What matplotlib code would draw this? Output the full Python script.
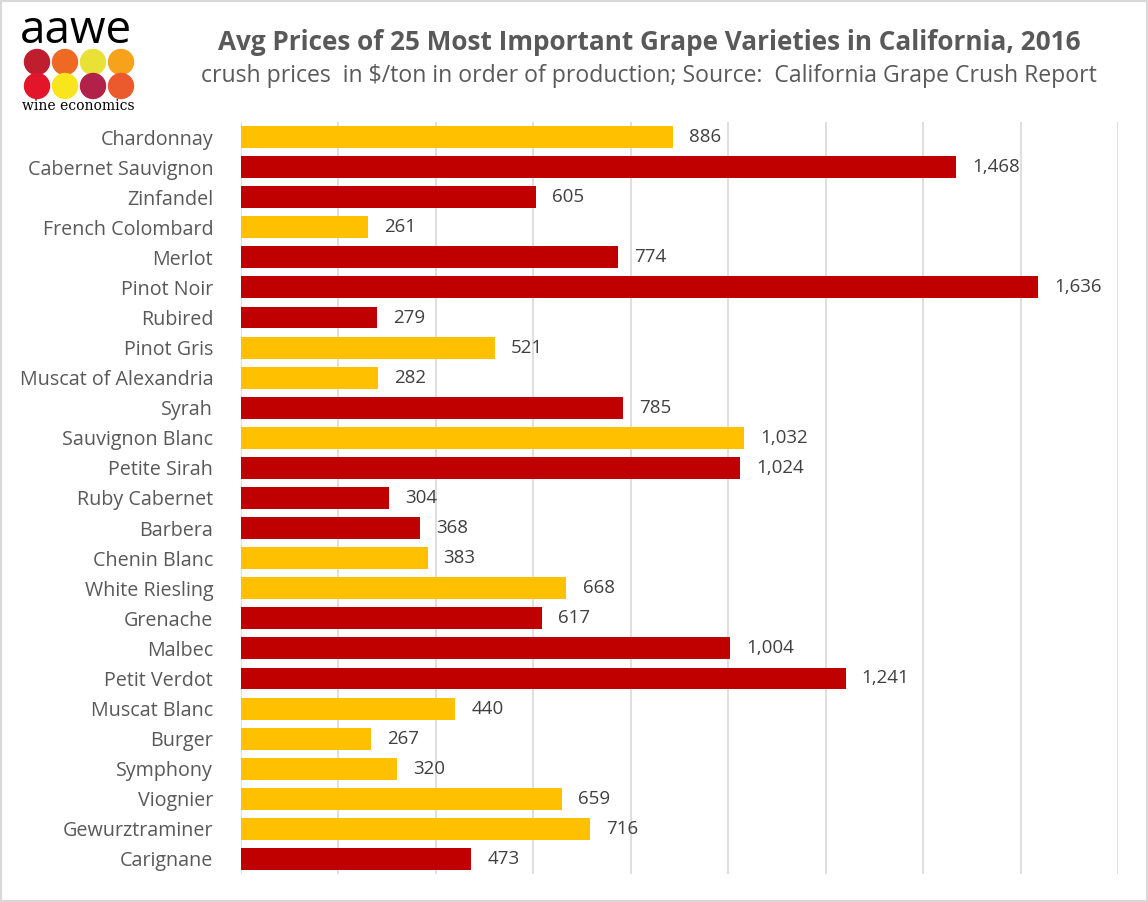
import matplotlib.pyplot as plt
from matplotlib.patches import Circle, Rectangle

varieties = ["Chardonnay", "Cabernet Sauvignon", "Zinfandel", "French Colombard", "Merlot",
             "Pinot Noir", "Rubired", "Pinot Gris", "Muscat of Alexandria", "Syrah",
             "Sauvignon Blanc", "Petite Sirah", "Ruby Cabernet", "Barbera", "Chenin Blanc",
             "White Riesling", "Grenache", "Malbec", "Petit Verdot", "Muscat Blanc",
             "Burger", "Symphony", "Viognier", "Gewurztraminer", "Carignane"]
prices = [886, 1468, 605, 261, 774, 1636, 279, 521, 282, 785, 1032, 1024, 304, 368, 383,
          668, 617, 1004, 1241, 440, 267, 320, 659, 716, 473]
grape_type = ["w", "r", "r", "w", "r", "r", "r", "w", "w", "r", "w", "r", "r", "r", "w",
              "w", "r", "r", "r", "w", "w", "w", "w", "w", "r"]

COLORS = {"w": "#FFC000", "r": "#C00000"}
INK = "#595959"
FONT = ["Open Sans", "DejaVu Sans"]

W, H = 1148, 902
fig = plt.figure(figsize=(W / 100, H / 100), dpi=100)
fig.patches.append(Rectangle((0, 0), 1, 1, transform=fig.transFigure, fill=False,
                             edgecolor="#d9d9d9", linewidth=3))

# --- main bar chart ---------------------------------------------------------
ax = fig.add_axes([241 / W, (H - 874) / H, 877 / W, 752 / H])
ypos = list(range(len(varieties)))
ax.barh(ypos, prices, height=0.73, color=[COLORS[t] for t in grape_type], zorder=3)
for y, v in zip(ypos, prices):
    ax.text(v + 33, y, f"{v:,}", va="center", ha="left", fontsize=13.5, color="#404040",
            family=FONT, zorder=4)
ax.set_xlim(0, 1800)
ax.set_ylim(len(varieties) - 0.5, -0.5)
ax.set_xticks(range(0, 1801, 200))
ax.set_xticklabels([])
ax.tick_params(axis="x", length=0)
ax.tick_params(axis="y", length=0, pad=20)
ax.set_yticks(ypos)
ax.set_yticklabels(varieties, fontsize=14.2, color=INK, family=FONT)
ax.grid(axis="x", color="#d9d9d9", linewidth=1.2, zorder=0)
for s in ax.spines.values():
    s.set_visible(False)

# --- titles -----------------------------------------------------------------
fig.text(649 / W, 1 - 42 / H, "Avg Prices of 25 Most Important Grape Varieties in California, 2016",
         ha="center", va="center", fontsize=18.8, fontweight="bold", color=INK, family=FONT)
fig.text(649 / W, 1 - 76 / H,
         "crush prices  in \\$/ton in order of production; Source:  California Grape Crush Report",
         ha="center", va="center", fontsize=16.6, color=INK, family=FONT)

# --- logo -------------------------------------------------------------------
lg = fig.add_axes([0, (H - 125) / H, 160 / W, 125 / H])
lg.set_xlim(0, 160)
lg.set_ylim(125, 0)
lg.axis("off")
lg.text(20, 31, "aawe", fontsize=33, color="black", family=FONT, va="center", ha="left")
dots = [["#BE1E2D", "#EE6A24", "#E9E136", "#F7A21B"],
        ["#E3152A", "#F9E51C", "#B1214A", "#EB5A2D"]]
for r, row in enumerate(dots):
    for c, col in enumerate(row):
        lg.add_patch(Circle((37 + 28 * c, 62 + 24 * r), 12.5, color=col))
lg.text(78, 106, "wine economics", fontsize=10, color="black", family=["DejaVu Serif"],
        ha="center", va="center")

fig.savefig("out.png", dpi=100)
